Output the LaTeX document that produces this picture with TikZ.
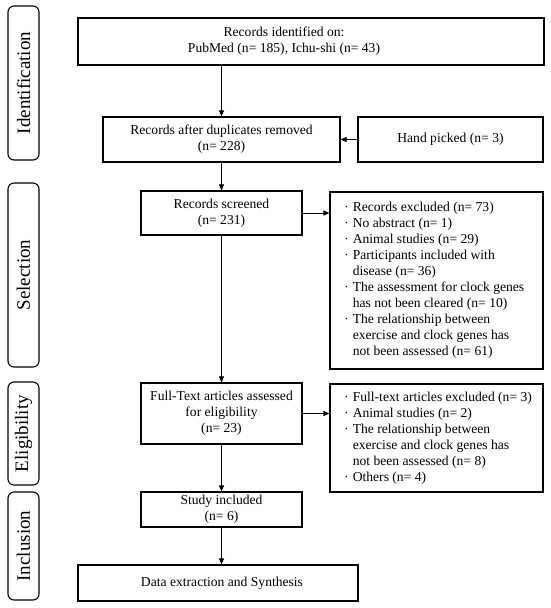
\documentclass[tikz,border=0pt]{standalone}
\usepackage{fontspec}
\setmainfont{Liberation Serif}
\usetikzlibrary{arrows.meta}
\newcommand\fs{\fontsize{13.6}{16}\selectfont}
\newcommand\lfs{\fontsize{19}{22}\selectfont}
\newcommand\bl{\makebox[12.6pt][c]{·}}
\newcommand\ind{\hspace*{12.6pt}}
\tikzset{
  box/.style={draw, line width=1.1pt, inner sep=0pt, font=\fs, align=center},
  lab/.style={draw, rounded corners=6pt, line width=1.1pt, inner sep=0pt, rotate=90, font=\lfs},
  txt/.style={inner sep=0pt, font=\fs, align=center},
  ltxt/.style={inner sep=0pt, font=\fs, align=left, anchor=west},
  arr/.style={-{Triangle[length=6pt,width=5pt]}, line width=0.9pt}
}
\begin{document}
\begin{tikzpicture}[x=1pt,y=-1pt]
\useasboundingbox (0,0) rectangle (550,608);
% stage labels
\node[lab, minimum width=154, minimum height=31] (lid) at (23.5,83) {Identification};
\node[lab, minimum width=184, minimum height=31] (lsel) at (23.5,275) {Selection};
\node[lab, minimum width=103, minimum height=31] (lel) at (23.5,433.5) {Eligibility};
\node[lab, minimum width=108, minimum height=31] (linc) at (23.5,546) {Inclusion};
% boxes
\node[box, minimum width=466, minimum height=47] (b1) at (311,41.5) {};
\node[txt] (b1t) at (284,41.5) {Records identified on:\\PubMed (n= 185), Ichu-shi (n= 43)};
\node[box, minimum width=237, minimum height=45] (b2) at (221.5,139.5) {Records after duplicates removed\\(n= 228)};
\node[box, minimum width=185, minimum height=45] (hp) at (450.5,139.5) {Hand picked (n= 3)};
\node[box, minimum width=161, minimum height=44] (scr) at (221.5,213) {Records screened\\(n= 231)};
\node[box, minimum width=213, minimum height=177] (ex1) at (436.5,280.5) {};
\node[ltxt] (ex1t) at (340,280.5) {\bl Records excluded (n= 73)\\
\bl No abstract (n= 1)\\
\bl Animal studies (n= 29)\\
\bl Participants included with\\
\ind disease (n= 36)\\
\bl The assessment for clock genes\\
\ind has not been cleared (n= 10)\\
\bl The relationship between\\
\ind exercise and clock genes has\\
\ind not been assessed (n= 61)};
\node[box, minimum width=161, minimum height=61] (ft) at (221.5,413.5) {Full-Text articles assessed\\for eligibility\\(n= 23)};
\node[box, minimum width=213, minimum height=108] (ex2) at (436.5,438) {};
\node[ltxt] (ex2t) at (340,438) {\bl Full-text articles excluded (n= 3)\\
\bl Animal studies (n= 2)\\
\bl The relationship between\\
\ind exercise and clock genes has\\
\ind not been assessed (n= 8)\\
\bl Others (n= 4)};
\node[box, minimum width=161, minimum height=35] (si) at (221.5,509.5) {Study included\\(n= 6)};
\node[box, minimum width=280, minimum height=36] (de) at (218,583) {};
\node[txt] (det) at (222,583) {Data extraction and Synthesis};
% arrows
\draw[arr] (b1.south -| b2.north) -- (b2.north);
\draw[arr] (hp.west) -- (b2.east);
\draw[arr] (b2.south) -- (scr.north);
\draw[arr] (scr.east) -- (scr.east -| ex1.west);
\draw[arr] (scr.south) -- (ft.north);
\draw[arr] (ft.east) -- (ft.east -| ex2.west);
\draw[arr] (ft.south) -- (si.north);
\draw[arr] (si.south) -- (si.south |- de.north);
\end{tikzpicture}
\end{document}
